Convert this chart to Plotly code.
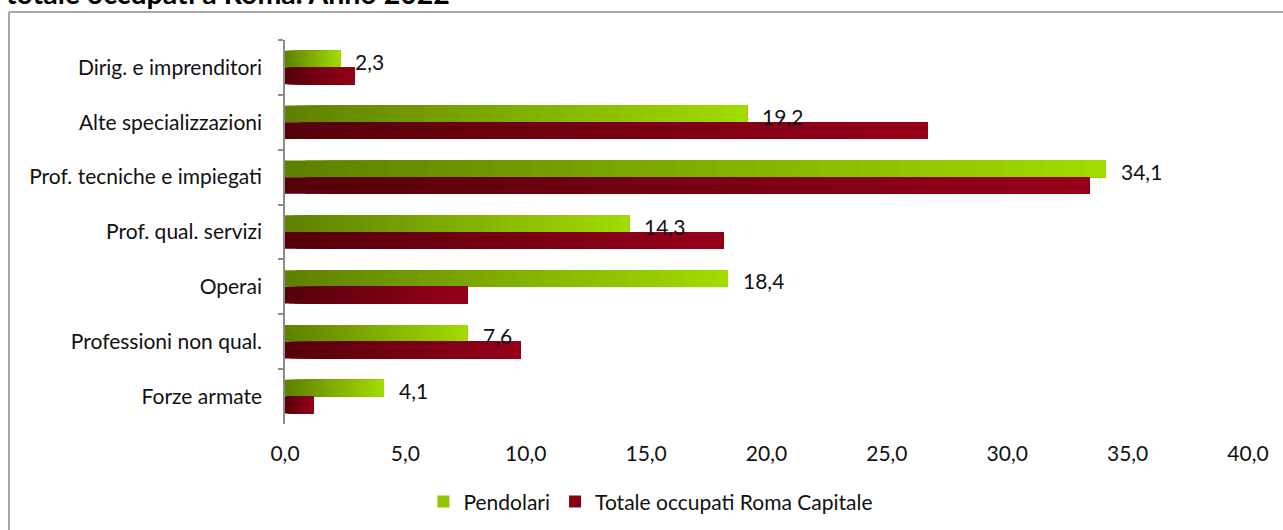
import plotly.graph_objects as go

categories = ["Dirig. e imprenditori", "Alte specializzazioni", "Prof. tecniche e impiegati",
              "Prof. qual. servizi", "Operai", "Professioni non qual.", "Forze armate"]
pendolari = [2.3, 19.2, 34.1, 14.3, 18.4, 7.6, 4.1]
totale = [2.9, 26.7, 33.4, 18.2, 7.6, 9.8, 1.2]
series_names = ["Pendolari", "Totale occupati Roma Capitale"]
x_ticks = [0, 5, 10, 15, 20, 25, 30, 35, 40]
title_text = "totale occupati a Roma. Anno 2022"

green_dark, green_light = (94, 128, 0), (162, 220, 0)
red_dark, red_light = (85, 0, 10), (152, 0, 26)

FONT = "Lato"
FS = 21
TXT = "#111111"
N = 40

def lerp(c1, c2, t):
    return "rgb(%d,%d,%d)" % tuple(round(a + (b - a) * t) for a, b in zip(c1, c2))

fig = go.Figure()

for name, vals, cdark, clight, grp in [
    (series_names[0], pendolari, green_dark, green_light, "a"),
    (series_names[1], totale, red_dark, red_light, "b"),
]:
    for k in range(N):
        f = k / N
        fig.add_trace(go.Bar(
            y=categories,
            x=[v * (1 - f) for v in vals],
            base=[v * f for v in vals],
            orientation="h",
            offsetgroup=grp,
            marker=dict(color=lerp(cdark, clight, (k + 0.5) / N), line=dict(width=0)),
            showlegend=False,
            hoverinfo="skip",
        ))
    fig.add_trace(go.Bar(
        y=[None], x=[None], orientation="h", name=name,
        marker=dict(color=lerp(cdark, clight, 0.75), line=dict(width=0)),
        showlegend=True, offsetgroup=grp,
    ))

annotations = []
for c, v in zip(categories, pendolari):
    annotations.append(dict(
        x=v, y=c, xref="x", yref="y", text=f"{v:.1f}".replace(".", ","),
        showarrow=False, xanchor="left", yanchor="middle", xshift=13, yshift=6,
        font=dict(family=FONT, size=FS, color=TXT),
    ))

annotations.append(dict(
    x=-0.2918, y=1.122, xref="paper", yref="paper", text="<b>" + title_text + "</b>",
    showarrow=False, xanchor="left", yanchor="middle",
    font=dict(family=FONT, size=28.5, color="#000000"),
))

BORDER = dict(color="#8a8a8a", width=1.5)

fig.update_layout(
    width=1283, height=530,
    margin=dict(l=285, r=35, t=40, b=106, autoexpand=False),
    paper_bgcolor="white", plot_bgcolor="white",
    barmode="group", bargap=0.39, bargroupgap=0,
    separators=",.",
    font=dict(family=FONT, size=FS, color=TXT),
    showlegend=True,
    legend=dict(orientation="h", x=0.38, xanchor="center", y=0.053, yanchor="middle",
                yref="container",
                font=dict(family=FONT, size=FS, color=TXT),
                itemwidth=30, traceorder="normal"),
    annotations=annotations,
    shapes=[
        dict(type="line", xref="paper", yref="paper", x0=-0.2866, x1=1.05, y0=1.0729, y1=1.0729,
             line=BORDER, layer="below"),
        dict(type="line", xref="paper", yref="paper", x0=-0.2866, x1=-0.2866, y0=1.0729, y1=-0.6,
             line=BORDER, layer="below"),
    ],
)

fig.update_xaxes(range=[0, 40], tickvals=x_ticks, tickformat=".1f", showgrid=False,
                 zeroline=False, showline=False, ticks="outside", ticklen=5,
                 tickcolor="rgba(0,0,0,0)", ticklabelstandoff=6, automargin=False,
                 tickfont=dict(family=FONT, size=FS, color=TXT))
fig.update_yaxes(categoryorder="array", categoryarray=categories, autorange="reversed",
                 showgrid=False, zeroline=False, showline=True, linecolor="#8c8c8c", linewidth=1.5,
                 ticks="outside", tickson="boundaries", ticklen=5, tickcolor="#8c8c8c", tickwidth=1.5,
                 ticklabelstandoff=17, automargin=False,
                 tickfont=dict(family=FONT, size=FS, color=TXT))

fig.write_html("out.html", config={"displayModeBar": False},
               post_script="document.body.style.margin='0px'; document.body.style.overflow='hidden';")
